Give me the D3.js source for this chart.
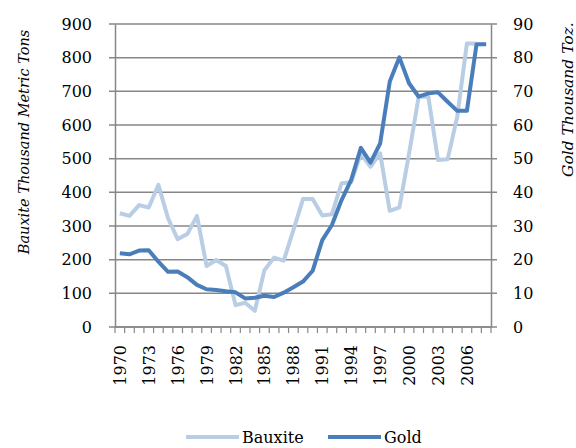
<!DOCTYPE html>
<html>
<head>
<meta charset="utf-8">
<script src="https://cdn.jsdelivr.net/npm/d3@7"></script>
<style>
  body { margin: 0; background: #fff; }
  svg { display: block; }
</style>
</head>
<body>
<div id="chart"></div>
<script>
// Bauxite vs gold production, 1970-2008
const years = d3.range(1970, 2009)
const bauxite = [338, 330, 362, 355, 422, 323, 261, 276, 330, 181,
  199, 181, 65, 72, 48, 169, 206, 197, 288, 380,
  380, 331, 335, 427, 430, 515, 476, 516, 345, 355,
  515, 684, 684, 496, 498, 625, 842, 842, null]
const gold = [21.9, 21.6, 22.7, 22.8, 19.4, 16.4, 16.5, 14.8, 12.5, 11.2,
  11.0, 10.6, 10.3, 8.5, 8.7, 9.3, 8.9, 10.2, 11.8, 13.5,
  16.7, 25.8, 30.3, 37.7, 43.7, 53.2, 48.8, 54.5, 72.9, 80.1,
  72.4, 68.4, 69.4, 69.7, 66.9, 64.2, 64.2, 84, 84]
const leftTicks = [0, 100, 200, 300, 400, 500, 600, 700, 800, 900]
const rightTicks = [0, 10, 20, 30, 40, 50, 60, 70, 80, 90]
const labelYears = d3.range(1970, 2007, 3)

const FONT = 'DejaVu Serif'

const width = 576
const height = 448
const margin = { top: 24, right: 85, bottom: 121, left: 115 }
const innerW = width - margin.left - margin.right
const innerH = height - margin.top - margin.bottom

const lightBlue = '#b9cde5'
const darkBlue = '#4a7ebb'
const gridColor = '#878787'

const svg = d3.select('#chart').append('svg')
  .attr('width', width)
  .attr('height', height)

const g = svg.append('g')
  .attr('transform', `translate(${margin.left},${margin.top})`)

const x = d3.scaleBand()
  .domain(years)
  .range([0, innerW])

const yLeft = d3.scaleLinear().domain([0, 900]).range([innerH, 0])
const yRight = d3.scaleLinear().domain([0, 90]).range([innerH, 0])

// Gridlines
g.append('g')
  .selectAll('line')
  .data(leftTicks)
  .enter()
  .append('line')
  .attr('x1', -6)
  .attr('x2', innerW + 6)
  .attr('y1', d => yLeft(d))
  .attr('y2', d => yLeft(d))
  .attr('stroke', gridColor)
  .attr('stroke-width', 1.5)

// Left axis
const leftAxis = g.append('g')
  .call(d3.axisLeft(yLeft).tickValues(leftTicks).tickSize(0).tickPadding(23))
leftAxis.attr('font-family', FONT).attr('font-size', 16)
leftAxis.select('.domain').attr('stroke', gridColor).attr('stroke-width', 1.5)
leftAxis.selectAll('text').attr('fill', '#000')

// Right axis
const rightAxis = g.append('g')
  .attr('transform', `translate(${innerW},0)`)
  .call(d3.axisRight(yRight).tickValues(rightTicks).tickSize(0).tickPadding(22))
rightAxis.attr('font-family', FONT).attr('font-size', 16)
rightAxis.select('.domain').attr('stroke', gridColor).attr('stroke-width', 1.5)
rightAxis.selectAll('text').attr('fill', '#000')

// Bottom axis: ticks between categories
const bottom = g.append('g').attr('transform', `translate(0,${innerH})`)
bottom.append('line')
  .attr('x1', 0)
  .attr('x2', innerW)
  .attr('stroke', gridColor)
  .attr('stroke-width', 1.5)
bottom.selectAll('.tick-mark')
  .data(years.concat([2009]))
  .enter()
  .append('line')
  .attr('x1', d => d === 2009 ? innerW : x(d))
  .attr('x2', d => d === 2009 ? innerW : x(d))
  .attr('y1', 0)
  .attr('y2', 6)
  .attr('stroke', gridColor)
  .attr('stroke-width', 1.2)
bottom.selectAll('.year-label')
  .data(labelYears)
  .enter()
  .append('text')
  .attr('transform', d => `translate(${x(d) + x.bandwidth() / 2 + 6},18) rotate(-90)`)
  .attr('text-anchor', 'end')
  .attr('font-family', FONT)
  .attr('font-size', 16)
  .attr('fill', '#000')
  .text(d => d)

// Lines
const cx = i => x(years[i]) + x.bandwidth() / 2

const bauxiteLine = d3.line()
  .defined(d => d !== null)
  .x((d, i) => cx(i))
  .y(d => yLeft(d))

const goldLine = d3.line()
  .x((d, i) => cx(i))
  .y(d => yRight(d))

g.append('path')
  .datum(bauxite)
  .attr('d', bauxiteLine)
  .attr('fill', 'none')
  .attr('stroke', lightBlue)
  .attr('stroke-width', 4)
  .attr('stroke-linejoin', 'round')

g.append('path')
  .datum(gold)
  .attr('d', goldLine)
  .attr('fill', 'none')
  .attr('stroke', darkBlue)
  .attr('stroke-width', 4)
  .attr('stroke-linejoin', 'round')

// Axis titles
svg.append('text')
  .attr('transform', `translate(29,142) rotate(-90)`)
  .attr('text-anchor', 'middle')
  .attr('font-family', FONT)
  .attr('font-size', 14.5)
  .attr('font-style', 'italic')
  .attr('fill', '#000')
  .text('Bauxite Thousand Metric Tons')

svg.append('text')
  .attr('transform', `translate(573,177) rotate(-90)`)
  .attr('text-anchor', 'start')
  .attr('font-family', FONT)
  .attr('font-size', 15.5)
  .attr('font-style', 'italic')
  .attr('fill', '#000')
  .text('Gold Thousand Toz.')

// Legend
const legend = svg.append('g').attr('transform', 'translate(0,437)')
const items = [
  { name: 'Bauxite', color: lightBlue, x: 186 },
  { name: 'Gold', color: darkBlue, x: 328 }
]
items.forEach(it => {
  legend.append('line')
    .attr('x1', it.x)
    .attr('x2', it.x + 53)
    .attr('stroke', it.color)
    .attr('stroke-width', 4)
  legend.append('text')
    .attr('x', it.x + 56)
    .attr('y', 6)
    .attr('font-family', FONT)
    .attr('font-size', 16)
    .attr('fill', '#000')
    .text(it.name)
})
</script>
</body>
</html>
